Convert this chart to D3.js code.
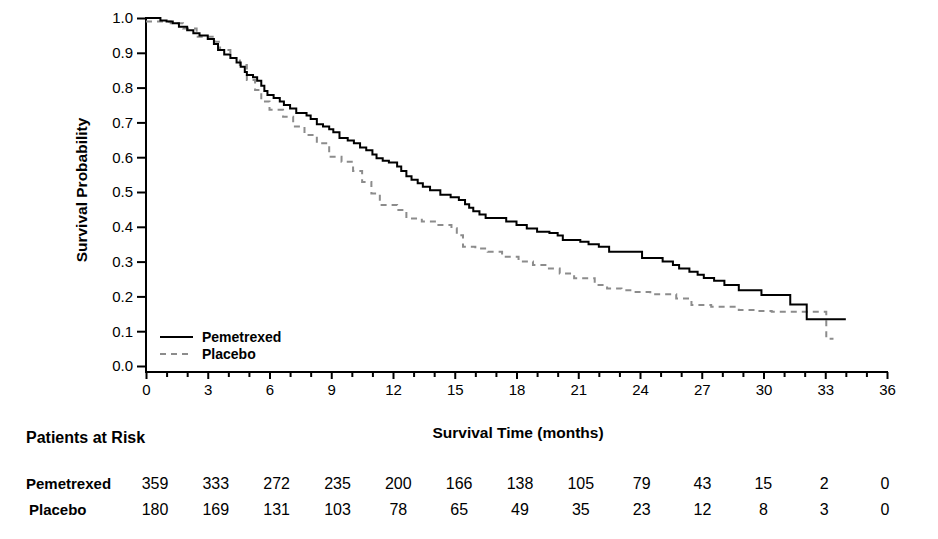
<!DOCTYPE html>
<html><head><meta charset="utf-8">
<script src="https://cdn.jsdelivr.net/npm/d3@7"></script>
<style>
body{margin:0;background:#fff;}
text{font-family:"Liberation Sans",Arial,sans-serif;fill:#000;}
</style></head>
<body>
<svg id="chart" width="938" height="539"></svg>
<script>
// ---- data ----
const pemTimes = [0,0.7,1.0,1.3,1.6,2.0,2.3,2.6,3.0,3.3,3.5,3.8,4.1,4.4,4.6,4.8,4.9,5.2,5.4,5.6,5.75,5.9,6.2,6.5,6.7,7.0,7.3,7.8,8.0,8.3,8.6,8.9,9.1,9.4,9.8,10.1,10.4,10.7,11.0,11.2,11.5,11.8,12.2,12.4,12.65,12.9,13.2,13.45,13.8,14.3,14.8,15.2,15.5,15.7,15.9,16.2,16.5,17.5,18.0,18.5,19.0,19.6,20.0,20.25,21.1,21.5,22.0,22.5,24.1,25.1,25.6,25.9,26.4,26.8,27.1,27.6,28.1,28.8,29.9,31.3,32.1,34.0];
const pemSurv  = [1.0,0.993,0.99,0.985,0.975,0.965,0.956,0.95,0.94,0.925,0.908,0.895,0.885,0.872,0.86,0.845,0.836,0.83,0.82,0.805,0.79,0.779,0.77,0.76,0.75,0.74,0.727,0.72,0.71,0.695,0.688,0.68,0.672,0.655,0.648,0.64,0.628,0.62,0.608,0.597,0.59,0.585,0.573,0.56,0.545,0.535,0.525,0.515,0.505,0.492,0.485,0.477,0.465,0.455,0.445,0.435,0.425,0.415,0.405,0.395,0.386,0.382,0.375,0.362,0.357,0.35,0.343,0.328,0.31,0.30,0.29,0.28,0.271,0.262,0.253,0.245,0.233,0.218,0.204,0.177,0.134,0.134];
const plaTimes = [0,1.2,1.8,2.46,3.35,3.6,4.1,4.56,4.9,5.3,5.6,6.0,6.66,7.15,7.7,8.3,8.9,9.5,10.06,10.5,10.95,11.36,12.2,12.65,13.4,14.1,14.84,15.1,15.4,16.0,16.6,17.3,18.1,18.8,19.5,20.1,20.8,21.8,22.4,23.1,23.7,24.5,25.76,26.5,27.46,28.8,29.6,30.4,33.05,33.4];
const plaSurv  = [0.99,0.985,0.97,0.946,0.932,0.908,0.885,0.865,0.822,0.793,0.76,0.736,0.716,0.688,0.664,0.64,0.601,0.587,0.56,0.529,0.496,0.463,0.448,0.424,0.415,0.405,0.396,0.376,0.343,0.338,0.328,0.314,0.30,0.29,0.28,0.266,0.252,0.233,0.223,0.218,0.213,0.206,0.194,0.175,0.17,0.161,0.158,0.156,0.078,0.078];
const seriesNames = ["Pemetrexed","Placebo"];
const riskTimes = [0,3,6,9,12,15,18,21,24,27,30,33,36];
const pemRisk = [359,333,272,235,200,166,138,105,79,43,15,2,0];
const plaRisk = [180,169,131,103,78,65,49,35,23,12,8,3,0];
const yTicks = [0,0.1,0.2,0.3,0.4,0.5,0.6,0.7,0.8,0.9,1.0];
const xTicks = d3.range(0,37,1);

// ---- layout ----
const svg = d3.select("#chart");
const x = d3.scaleLinear().domain([0,36]).range([146,887]);
const y = d3.scaleLinear().domain([0,1]).range([366,18]);
const xAxisY = 372;

// y axis
const gy = svg.append("g").attr("transform","translate(146,0)")
  .call(d3.axisLeft(y).tickValues(yTicks).tickFormat(d3.format(".1f")).tickSize(9).tickPadding(4).tickSizeOuter(0));
gy.select(".domain").remove();
gy.selectAll(".tick line").attr("stroke","#000").attr("stroke-width",2);
gy.selectAll(".tick text").attr("font-size",15).attr("font-family",null);
svg.append("line").attr("x1",146).attr("x2",146).attr("y1",y(1)-1).attr("y2",xAxisY+1).attr("stroke","#000").attr("stroke-width",2);

// x axis
const gx = svg.append("g").attr("transform",`translate(0,${xAxisY})`)
  .call(d3.axisBottom(x).tickValues(xTicks).tickFormat(d=> d%3===0? d : "").tickSize(6).tickPadding(6).tickSizeOuter(0));
gx.select(".domain").remove();
gx.selectAll(".tick line").attr("stroke","#000").attr("stroke-width",2).attr("y2",d=>d%3===0?7:5);
gx.selectAll(".tick text").attr("font-size",15).attr("font-family",null).attr("y",12);
svg.append("line").attr("x1",145).attr("x2",x(36)+1).attr("y1",xAxisY).attr("y2",xAxisY).attr("stroke","#000").attr("stroke-width",2);

// curves
const line = d3.line().x(d=>x(d[0])).y(d=>y(d[1])).curve(d3.curveStepAfter);
const pemData = pemTimes.map((t,i)=>[t,pemSurv[i]]);
const plaData = plaTimes.map((t,i)=>[t,plaSurv[i]]);
svg.append("path").datum(plaData).attr("d",line).attr("fill","none")
  .attr("stroke","#8c8c8c").attr("stroke-width",2).attr("stroke-dasharray","6,5");
svg.append("path").datum(pemData).attr("d",line).attr("fill","none")
  .attr("stroke","#000").attr("stroke-width",2);

// legend
const lg = svg.append("g");
const legendItems = [{name:seriesNames[0],color:"#000",dash:null,yy:337},{name:seriesNames[1],color:"#8c8c8c",dash:"6,5",yy:354}];
legendItems.forEach(it=>{
  lg.append("line").attr("x1",160).attr("x2",193).attr("y1",it.yy).attr("y2",it.yy)
    .attr("stroke",it.color).attr("stroke-width",2).attr("stroke-dasharray",it.dash);
  lg.append("text").attr("x",202).attr("y",it.yy+5).attr("font-size",14).attr("font-weight","bold").text(it.name);
});

// axis titles
svg.append("text").attr("transform","translate(87,190) rotate(-90)").attr("text-anchor","middle")
  .attr("font-size",15.5).attr("font-weight","bold").text("Survival Probability");
svg.append("text").attr("x",518).attr("y",438).attr("text-anchor","middle")
  .attr("font-size",15.5).attr("font-weight","bold").text("Survival Time (months)");

// risk table
svg.append("text").attr("x",26).attr("y",443).attr("font-size",16).attr("font-weight","bold").text("Patients at Risk");
const col = d3.scaleLinear().domain([0,36]).range([155,885]);
[[seriesNames[0],pemRisk,489,26],[seriesNames[1],plaRisk,515,29]].forEach(([nm,vals,yy,lx])=>{
  svg.append("text").attr("x",lx).attr("y",yy).attr("font-size",15).attr("font-weight","bold").text(nm);
  svg.selectAll(null).data(vals).enter().append("text")
    .attr("x",(d,i)=>col(riskTimes[i])).attr("y",yy).attr("text-anchor","middle").attr("font-size",16).text(d=>d);
});
</script>
</body></html>
